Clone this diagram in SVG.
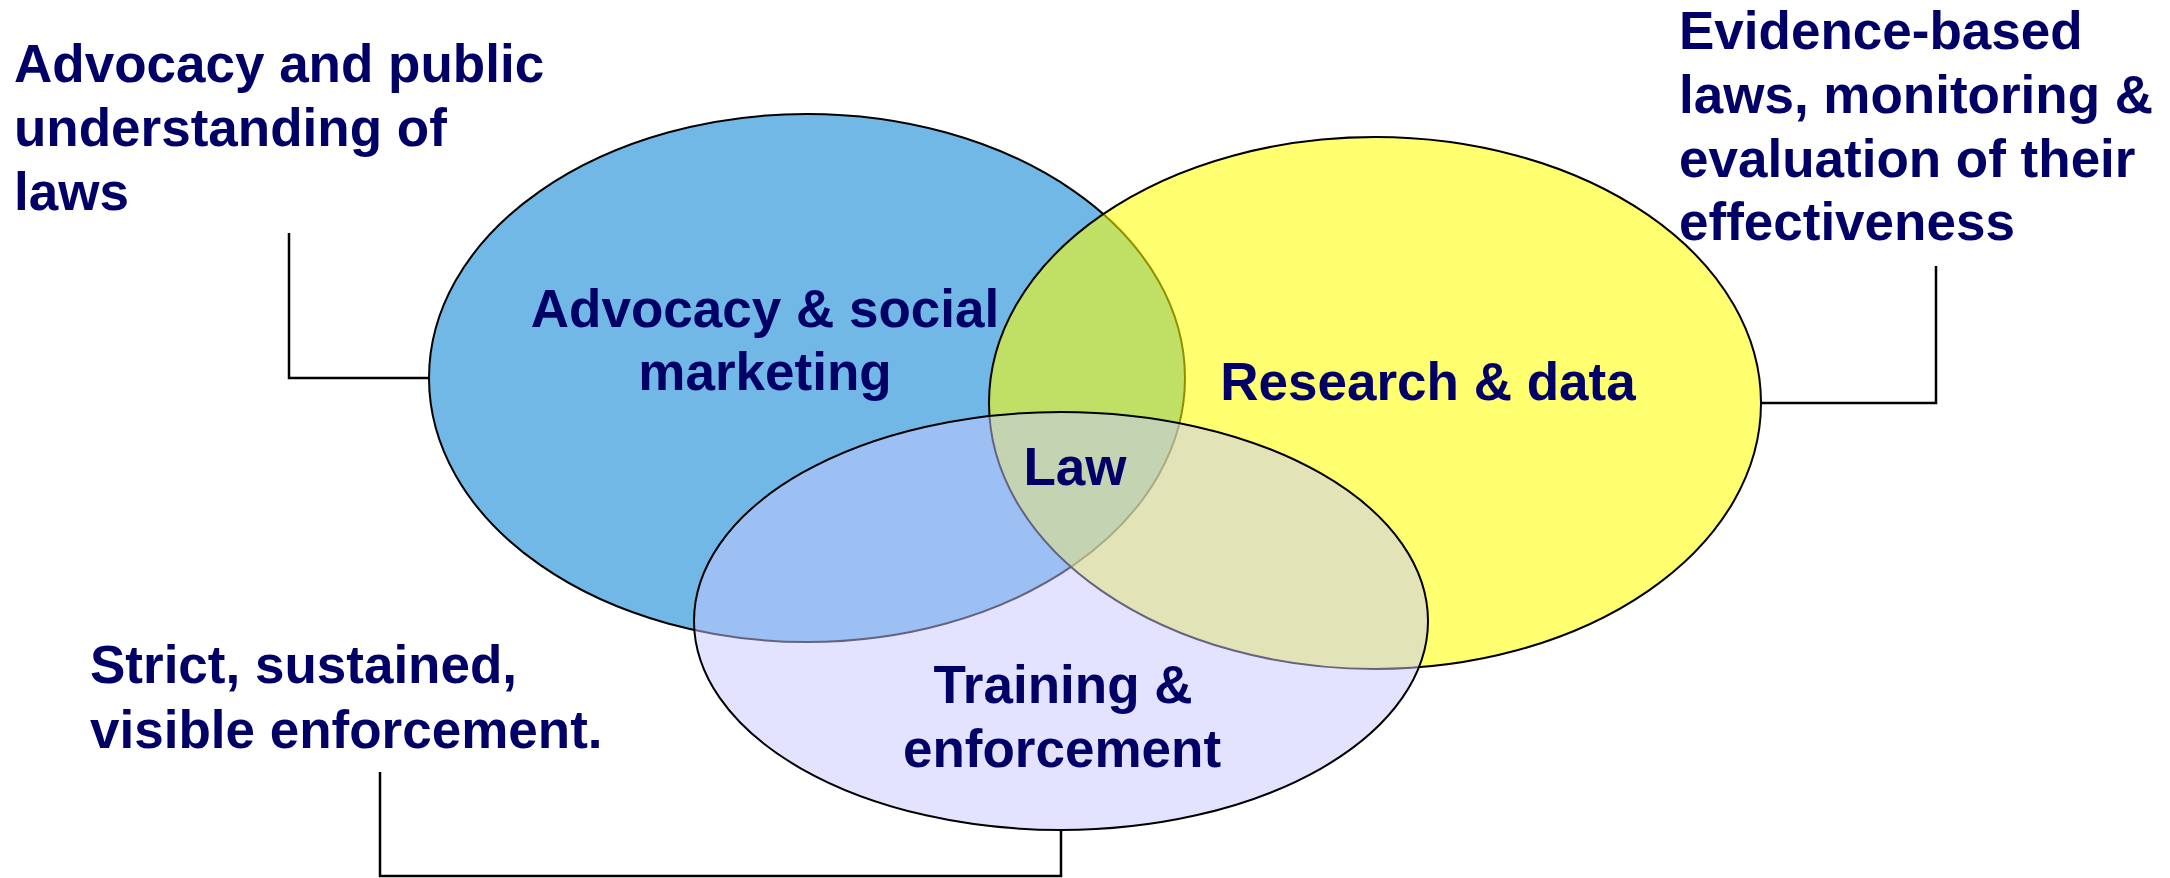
<svg xmlns="http://www.w3.org/2000/svg" width="2170" height="878" viewBox="0 0 2170 878">
<style>
  .lbl { font-family: "Liberation Sans", Arial, sans-serif; font-weight: bold; font-size: 53px; fill: #000066; }
  .mid { text-anchor: middle; }
  .edge { stroke: #000; stroke-width: 2; }
  .conn { fill: none; stroke: #000; stroke-width: 2.5; }
</style>
<rect width="2170" height="878" fill="#ffffff"/>
<g id="connectors">
  <polyline class="conn" points="289,233 289,378 429,378"/>
  <polyline class="conn" points="1936,266 1936,403 1761,403"/>
  <polyline class="conn" points="380,772 380,876 1061,876 1061,830"/>
</g>
<g id="advocacy">
  <ellipse class="edge" cx="807" cy="378" rx="378" ry="264" fill="#71B8E6"/>
  <text class="lbl mid" x="765" y="327">Advocacy &amp; social</text>
  <text class="lbl mid" x="765" y="390">marketing</text>
</g>
<g id="research">
  <ellipse class="edge" cx="1375" cy="403" rx="386" ry="266" fill="#FFFF00" fill-opacity="0.56"/>
  <text class="lbl mid" x="1428" y="400">Research &amp; data</text>
</g>
<g id="training">
  <ellipse class="edge" cx="1061" cy="621" rx="367" ry="209" fill="#C8C8FF" fill-opacity="0.5"/>
  <text class="lbl mid" x="1063" y="703">Training &amp;</text>
  <text class="lbl mid" x="1062" y="767">enforcement</text>
</g>
<g id="law">
  <text class="lbl mid" x="1075" y="485">Law</text>
</g>
<g id="note-advocacy">
  <text class="lbl" x="14" y="82">Advocacy and public</text>
  <text class="lbl" x="14" y="146">understanding of</text>
  <text class="lbl" x="14" y="210">laws</text>
</g>
<g id="note-evidence">
  <text class="lbl" x="1679" y="49">Evidence-based</text>
  <text class="lbl" x="1679" y="113">laws, monitoring &amp;</text>
  <text class="lbl" x="1679" y="177">evaluation of their</text>
  <text class="lbl" x="1679" y="240">effectiveness</text>
</g>
<g id="note-enforcement">
  <text class="lbl" x="90" y="683">Strict, sustained,</text>
  <text class="lbl" x="90" y="748">visible enforcement.</text>
</g>
</svg>
